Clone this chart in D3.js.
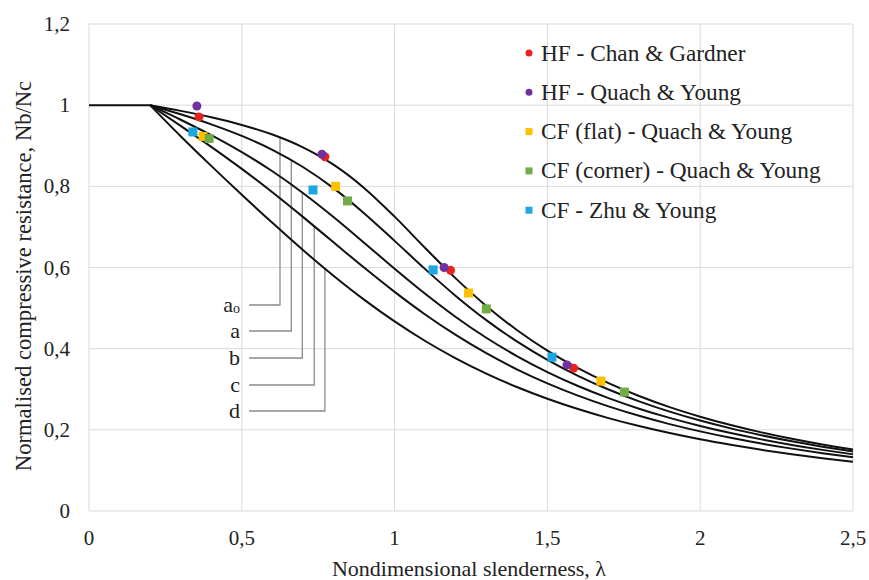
<!DOCTYPE html>
<html>
<head>
<meta charset="utf-8">
<script src="https://cdn.jsdelivr.net/npm/d3@7"></script>
</head>
<body style="margin:0;background:#fff">
<svg id="chart" width="869" height="580"></svg>
<script>
// slenderness values where the curves were read
const lambdas = [0.2, 0.3, 0.4, 0.5, 0.6, 0.7, 0.8, 0.9, 1.0, 1.1, 1.2, 1.3, 1.4, 1.5, 1.6, 1.7, 1.8, 1.9, 2.0, 2.1, 2.2, 2.3, 2.4, 2.5];
const plateau = [[0, 1], [0.2, 1]];

const curveA0 = [1, 0.9859, 0.9701, 0.9513, 0.9276, 0.8961, 0.8533, 0.7961, 0.7253, 0.6482, 0.5732, 0.5053, 0.4461, 0.3953, 0.3520, 0.3150, 0.2833, 0.2559, 0.2323, 0.2117, 0.1937, 0.1779, 0.1639, 0.1515];
const curveA = [1, 0.9775, 0.9528, 0.9243, 0.8900, 0.8477, 0.7957, 0.7339, 0.6656, 0.5960, 0.5300, 0.4703, 0.4179, 0.3724, 0.3332, 0.2994, 0.2702, 0.2449, 0.2229, 0.2036, 0.1867, 0.1717, 0.1585, 0.1467];
const curveB = [1, 0.9641, 0.9261, 0.8842, 0.8371, 0.7837, 0.7245, 0.6612, 0.5970, 0.5352, 0.4781, 0.4269, 0.3817, 0.3422, 0.3079, 0.2781, 0.2521, 0.2294, 0.2095, 0.1920, 0.1765, 0.1628, 0.1506, 0.1397];
const curveC = [1, 0.9491, 0.8973, 0.8430, 0.7854, 0.7247, 0.6622, 0.5998, 0.5399, 0.4842, 0.4338, 0.3888, 0.3492, 0.3145, 0.2842, 0.2577, 0.2345, 0.2141, 0.1962, 0.1803, 0.1662, 0.1537, 0.1425, 0.1325];
const curveD = [1, 0.9235, 0.8504, 0.7793, 0.7100, 0.6431, 0.5797, 0.5208, 0.4671, 0.4189, 0.3762, 0.3385, 0.3055, 0.2766, 0.2512, 0.2289, 0.2093, 0.1920, 0.1766, 0.1630, 0.1508, 0.1399, 0.1302, 0.1214];

const curveNames = ["a0", "a", "b", "c", "d"];

// test results [lambda, Nb/Nc]
const chanGardner = [[0.36, 0.971], [0.772, 0.873], [1.183, 0.593], [1.586, 0.352]];
const quachHF = [[0.353, 0.998], [0.762, 0.879], [1.162, 0.600], [1.564, 0.360]];
const quachFlat = [[0.373, 0.923], [0.807, 0.800], [1.242, 0.537], [1.675, 0.320]];
const quachCorner = [[0.393, 0.918], [0.846, 0.764], [1.300, 0.498], [1.752, 0.293]];
const zhuYoung = [[0.340, 0.934], [0.733, 0.791], [1.126, 0.594], [1.515, 0.379]];

const xTicks = [0, 0.5, 1, 1.5, 2, 2.5];
const yTicks = [0, 0.2, 0.4, 0.6, 0.8, 1, 1.2];

const FONT = "'Liberation Serif', serif";
const svg = d3.select("#chart");
const margin = { left: 89, right: 16, top: 24, bottom: 69 };
const width = 869, height = 580;
const ink = "#222";

const x = d3.scaleLinear().domain([0, 2.5]).range([margin.left, width - margin.right]);
const y = d3.scaleLinear().domain([0, 1.2]).range([height - margin.bottom, margin.top]);
const fmt = (d) => String(d).replace(".", ",");

// grid
svg.append("g")
	.selectAll("line")
	.data(yTicks)
	.join("line")
	.attr("x1", x(0)).attr("x2", x(2.5))
	.attr("y1", (d) => y(d)).attr("y2", (d) => y(d))
	.attr("stroke", "#d9d9d9").attr("stroke-width", 1);
svg.append("g")
	.selectAll("line")
	.data(xTicks)
	.join("line")
	.attr("x1", (d) => x(d)).attr("x2", (d) => x(d))
	.attr("y1", y(0)).attr("y2", y(1.2))
	.attr("stroke", "#d9d9d9").attr("stroke-width", 1);

// tick labels
svg.append("g")
	.selectAll("text")
	.data(xTicks)
	.join("text")
	.attr("x", (d) => x(d))
	.attr("y", 545)
	.attr("text-anchor", "middle")
	.attr("fill", ink)
	.style("font-size", "21px")
	.text(fmt);
svg.append("g")
	.selectAll("text")
	.data(yTicks)
	.join("text")
	.attr("x", 70)
	.attr("y", (d) => y(d) + 7)
	.attr("text-anchor", "end")
	.attr("fill", ink)
	.style("font-size", "21px")
	.text(fmt);

// axis titles
svg.append("text")
	.attr("x", 469).attr("y", 576)
	.attr("text-anchor", "middle")
	.attr("fill", ink)
	.style("font-size", "22px")
	.text("Nondimensional slenderness, λ");
svg.append("text")
	.attr("transform", "translate(31,276) rotate(-90)")
	.attr("text-anchor", "middle")
	.attr("fill", ink)
	.style("font-size", "22.6px")
	.text("Normalised compressive resistance, Nb/Nc");

// leader lines for curve labels
const labelRows = [305, 331, 358, 385, 411];
const leaderX = [0.625, 0.662, 0.698, 0.737, 0.772];
const leaderTop = [curveA0, curveA, curveB, curveC, curveD];
const leaders = svg.append("g").attr("fill", "none").attr("stroke", "#8c8c8c").attr("stroke-width", 1.3);
curveNames.forEach((name, i) => {
	const lx = leaderX[i];
	// top of the leader sits on its curve
	const yTop = d3.scaleLinear().domain(lambdas).range(leaderTop[i])(lx);
	leaders.append("path")
		.attr("d", "M249," + labelRows[i] + "H" + x(lx) + "V" + y(yTop));
	const t = svg.append("text")
		.attr("x", 240)
		.attr("y", labelRows[i] + 7)
		.attr("text-anchor", "end")
		.attr("fill", ink)
		.style("font-size", "22px");
	if (name === "a0") {
		t.append("tspan").text("a");
		t.append("tspan").text("o").style("font-size", "14px").attr("dy", 1);
	} else {
		t.text(name);
	}
});

// curves
const line = d3.line()
	.x((d) => x(d[0]))
	.y((d) => y(d[1]))
	.curve(d3.curveMonotoneX);
const curves = svg.append("g").attr("fill", "none").attr("stroke", "#111").attr("stroke-width", 2);
curves.append("path").attr("d", d3.line().x((d) => x(d[0])).y((d) => y(d[1]))(plateau));
[curveA0, curveA, curveB, curveC, curveD].forEach((vals) => {
	curves.append("path").attr("d", line(lambdas.map((l, i) => [l, vals[i]])));
});

// test points
const series = [
	{ name: "HF - Chan & Gardner", data: chanGardner, color: "#e8221f", shape: "circle" },
	{ name: "HF - Quach & Young", data: quachHF, color: "#7030a0", shape: "circle" },
	{ name: "CF (flat) - Quach & Young", data: quachFlat, color: "#ffc000", shape: "square" },
	{ name: "CF (corner) - Quach & Young", data: quachCorner, color: "#70ad47", shape: "square" },
	{ name: "CF - Zhu & Young", data: zhuYoung, color: "#1fa7e1", shape: "square" }
];
const drawMark = (g, shape, color, cx, cy, s) => {
	if (shape === "circle") {
		g.append("circle").attr("cx", cx).attr("cy", cy).attr("r", s / 2).attr("fill", color);
	} else {
		g.append("rect").attr("x", cx - s / 2).attr("y", cy - s / 2).attr("width", s).attr("height", s).attr("fill", color);
	}
};
const pts = svg.append("g");
series.forEach((s) => {
	s.data.forEach((d) => drawMark(pts, s.shape, s.color, x(d[0]), y(d[1]), 9));
});

// legend
const legend = svg.append("g").attr("id", "legend");
series.forEach((s, i) => {
	const ly = 53 + i * 39.3;
	drawMark(legend, s.shape, s.color, 529, ly, 7);
	legend.append("text")
		.attr("x", 541)
		.attr("y", ly + 7.5)
		.attr("fill", ink)
		.style("font-size", "23.3px")
		.text(s.name);
});

svg.selectAll("text, tspan").style("font-family", FONT);
</script>
</body>
</html>
